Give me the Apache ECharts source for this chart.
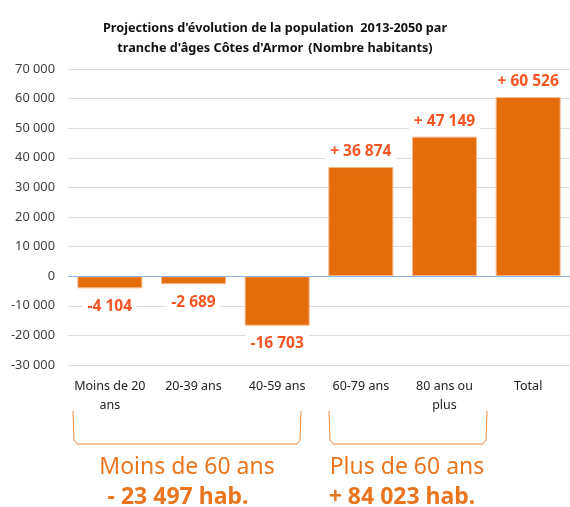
<!DOCTYPE html>
<html>
<head>
<meta charset="utf-8">
<script src="https://cdn.jsdelivr.net/npm/echarts@6/dist/echarts.min.js"></script>
<style>
html, body { margin: 0; padding: 0; background: #fff; }
#main { width: 570px; height: 507px; }
</style>
</head>
<body>
<div id="main"></div>
<script>
var categories = ['Moins de 20\nans', '20-39 ans', '40-59 ans', '60-79 ans', '80 ans ou\nplus', 'Total'];
var values = [-4104, -2689, -16703, 36874, 47149, 60526];
var groupNames = ['Moins de 60 ans', 'Plus de 60 ans'];
var groupTotals = ['- 23 497 hab.', '+ 84 023 hab.'];

var FONT = "'Noto Sans', sans-serif";
var ORANGE = '#e46c0a';
var LABEL_RED = '#f85525';
var TEXT_ORANGE = '#e9761f';

// séparateur de milliers "70 000"
function fmt(n) {
	var s = String(Math.abs(n)).replace(/\B(?=(\d{3})+(?!\d))/g, ' ');
	return (n < 0 ? '-' : '') + s;
}

var barData = [];
for (var i = 0; i < values.length; i++) {
	barData.push({
		value: values[i],
		label: { position: values[i] < 0 ? 'bottom' : 'top', distance: values[i] < 0 ? 9 : 6 }
	});
}

var myChart = echarts.init(document.getElementById('main'));
var option = {
	animation: false,
	title: {
		left: 270,
		top: 13,
		textAlign: 'center',
		text: "{b|Projections d'évolution de la population  2013-2050 par}\n{b|tranche d'âges Côtes d'Armor} {n|(Nombre habitants)}",
		textStyle: {
			rich: {
				b: { fontFamily: FONT, fontSize: 12.7, fontWeight: 'bold', color: '#111', lineHeight: 20 },
				n: { fontFamily: FONT, fontSize: 12.7, color: '#111', lineHeight: 20 }
			}
		}
	},
	grid: { left: 68, top: 69, width: 505, bottom: 142 },
	xAxis: {
		type: 'category',
		data: categories,
		axisLine: { show: false, onZero: false },
		axisTick: { show: false },
		axisLabel: {
			fontFamily: FONT, fontSize: 12.5, color: '#222', margin: 12, lineHeight: 19, interval: 0
		}
	},
	yAxis: {
		type: 'value',
		min: -30000,
		max: 70000,
		interval: 10000,
		axisLine: { show: false },
		axisTick: { show: false },
		splitLine: { lineStyle: { color: '#dcdcdc', width: 1 } },
		axisLabel: {
			fontFamily: FONT, fontSize: 12.8, color: '#404040', margin: 13,
			formatter: function(v) { return fmt(v); }
		}
	},
	series: [{
		type: 'bar',
		data: barData,
		barWidth: 65,
		itemStyle: { color: ORANGE, borderColor: '#f6b98a', borderWidth: 1 },
		label: {
			show: true,
			fontFamily: FONT,
			fontSize: 15.5,
			fontWeight: 'bold',
			color: LABEL_RED,
			backgroundColor: '#fff',
			padding: [1, 5],
			formatter: function(p) {
				return p.value > 0 ? '+ ' + fmt(p.value) : fmt(p.value);
			}
		},
		markLine: {
			silent: true,
			symbol: 'none',
			label: { show: false },
			lineStyle: { color: '#8eb4e3', type: 'solid', width: 1 },
			data: [{ yAxis: 0 }]
		}
	}],
	graphic: [
		{
			type: 'polyline',
			shape: { points: [[73, 411], [74, 440], [77, 444], [297, 444], [300, 440], [301, 411]] },
			style: { stroke: '#ec8a3f', fill: null, lineWidth: 1 }
		},
		{
			type: 'polyline',
			shape: { points: [[329, 411], [330, 440], [333, 444], [483, 444], [486, 440], [487, 411]] },
			style: { stroke: '#ec8a3f', fill: null, lineWidth: 1 }
		},
		{
			type: 'text', x: 187, y: 467,
			style: { text: groupNames[0], fontFamily: FONT, fontSize: 23, fill: TEXT_ORANGE, align: 'center', verticalAlign: 'middle' }
		},
		{
			type: 'text', x: 178, y: 497,
			style: { text: groupTotals[0], fontFamily: FONT, fontSize: 23, fontWeight: 'bold', fill: TEXT_ORANGE, align: 'center', verticalAlign: 'middle' }
		},
		{
			type: 'text', x: 407, y: 467,
			style: { text: groupNames[1], fontFamily: FONT, fontSize: 23, fill: TEXT_ORANGE, align: 'center', verticalAlign: 'middle' }
		},
		{
			type: 'text', x: 402, y: 497,
			style: { text: groupTotals[1], fontFamily: FONT, fontSize: 23, fontWeight: 'bold', fill: TEXT_ORANGE, align: 'center', verticalAlign: 'middle' }
		}
	]
};
myChart.setOption(option);
window.onresize = myChart.resize;
</script>
</body>
</html>
